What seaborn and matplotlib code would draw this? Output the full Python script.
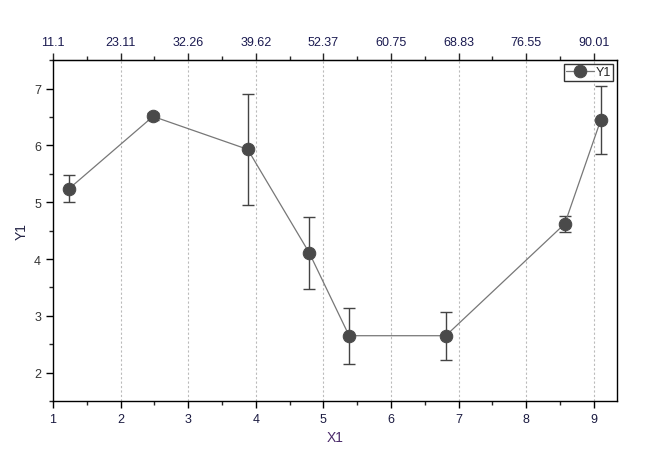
import matplotlib
matplotlib.use("Agg")
import matplotlib.pyplot as plt
import seaborn as sns
import pandas as pd
from matplotlib.ticker import MultipleLocator

x_vals = [1.24, 2.48, 3.88, 4.79, 5.38, 6.81, 8.57, 9.10]
y_vals = [5.24, 6.51, 5.93, 4.11, 2.65, 2.65, 4.62, 6.44]
y_err = [0.24, 0.06, 0.98, 0.63, 0.49, 0.42, 0.14, 0.60]
bottom_ticks = [1, 2, 3, 4, 5, 6, 7, 8, 9]
top_labels = ["11.1", "23.11", "32.26", "39.62", "52.37", "60.75", "68.83", "76.55", "90.01"]

sns.set_style("white")
plt.rcParams['font.family'] = ['Liberation Sans', 'DejaVu Sans']

df = pd.DataFrame({"X1": x_vals, "Y1": y_vals})

fig = plt.figure(figsize=(6.5, 4.6), dpi=100)
ax = fig.add_axes([0.0815, 0.126, 0.8675, 0.741])

ax.errorbar(x_vals, y_vals, yerr=y_err, fmt='none', ecolor='#444444',
            elinewidth=1.0, capsize=4, capthick=1.0, zorder=2)
sns.lineplot(data=df, x="X1", y="Y1", sort=False, ax=ax, color='#777777',
             linewidth=0.9, marker='o', markersize=9, markerfacecolor='#4a4a4a',
             markeredgecolor='#4a4a4a', label='Y1', zorder=3)

ax.set_xlim(1, 9.34)
ax.set_ylim(1.5, 7.5)
ax.set_xticks(bottom_ticks)
ax.xaxis.set_minor_locator(MultipleLocator(0.5))
ax.yaxis.set_major_locator(MultipleLocator(1))
ax.yaxis.set_minor_locator(MultipleLocator(0.5))
ax.set_yticks([2, 3, 4, 5, 6, 7])

for xv in bottom_ticks[1:]:
    ax.axvline(xv, color='#bbbbbb', linestyle=(0, (2, 2)), linewidth=0.8, zorder=0)

for s in ax.spines.values():
    s.set_color('black')
    s.set_linewidth(1.0)

ax.tick_params(axis='both', which='major', direction='out', length=5, width=1,
               labelsize=9, colors='black', left=True, bottom=True)
ax.tick_params(axis='both', which='minor', direction='out', length=3, width=1,
               left=True, bottom=True)
ax.tick_params(axis='x', labelcolor='#1a1a40')
ax.tick_params(axis='y', labelcolor='#333333')

ax.set_xlabel("X1", fontsize=10, color='#4a2a6a')
ax.set_ylabel("Y1", fontsize=10, color='#222244')

top = ax.secondary_xaxis('top')
top.set_xticks(bottom_ticks)
top.set_xticklabels(top_labels)
top.xaxis.set_minor_locator(MultipleLocator(0.5))
top.tick_params(axis='x', which='major', direction='out', length=5, width=1,
                labelsize=9, labelcolor='#1a1a50')
top.tick_params(axis='x', which='minor', direction='out', length=3, width=1)

leg = ax.legend(loc='upper right', frameon=True, fontsize=9, handlelength=2.2,
                borderpad=0.2, borderaxespad=0.3, handletextpad=0.1, fancybox=False)
leg.get_frame().set_edgecolor('black')
leg.get_frame().set_linewidth(1.0)

fig.savefig("out.png", dpi=100)
